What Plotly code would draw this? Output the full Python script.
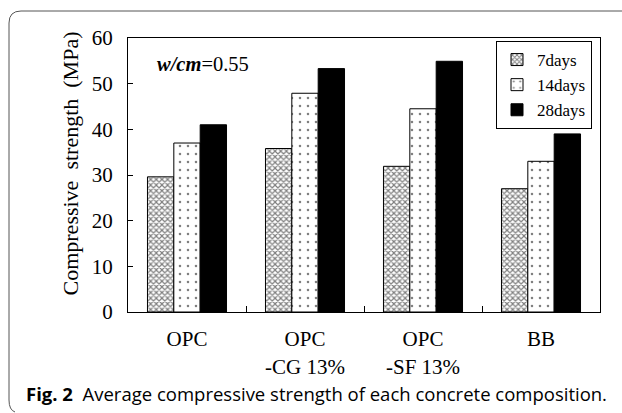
import plotly.graph_objects as go

categories = ["OPC", "OPC<br>-CG 13%", "OPC<br>-SF 13%", "BB"]
series_names = ["7days", "14days", "28days"]
d7 = [29.6, 35.8, 31.9, 27.0]
d14 = [37.0, 47.9, 44.5, 33.0]
d28 = [41.0, 53.3, 54.9, 39.0]
y_ticks = [0, 10, 20, 30, 40, 50, 60]

W, H = 622, 413
ML, MR, MT, MB = 128, 22, 38, 101
PW, PH = W - ML - MR, H - MT - MB

def px(x):
    return (x - ML) / PW

def py(y):
    return (H - MB - y) / PH

serif = "Liberation Serif"

fig = go.Figure()
fig.add_trace(go.Bar(x=categories, y=d7, name=series_names[0],
                     marker=dict(color="white", line=dict(color="black", width=1),
                                 pattern=dict(shape="x", fgcolor="black", bgcolor="white",
                                              size=4, solidity=0.5))))
fig.add_trace(go.Bar(x=categories, y=d14, name=series_names[1],
                     marker=dict(color="white", line=dict(color="black", width=1),
                                 pattern=dict(shape=".", fgcolor="black", bgcolor="white",
                                              size=8, solidity=0.08))))
fig.add_trace(go.Bar(x=categories, y=d28, name=series_names[2],
                     marker=dict(color="black", line=dict(color="black", width=1))))

fig.update_layout(
    width=W, height=H,
    margin=dict(l=ML, r=MR, t=MT, b=MB),
    paper_bgcolor="white", plot_bgcolor="white",
    barmode="group", bargap=0.33, bargroupgap=0,
    font=dict(family=serif, size=21, color="black"),
    showlegend=True,
    legend=dict(x=px(592), y=py(41), xanchor="right", yanchor="top",
                bgcolor="white", bordercolor="black", borderwidth=1,
                font=dict(family=serif, size=17, color="black"), tracegroupgap=0,
                itemwidth=30),
    xaxis=dict(showline=True, linecolor="black", linewidth=1, mirror=True,
               ticks="inside", tickson="boundaries", ticklen=6, tickcolor="black",
               ticklabelstandoff=8,
               tickfont=dict(family=serif, size=21)),
    yaxis=dict(range=[0, 60], tickvals=y_ticks, showline=True, linecolor="black",
               linewidth=1, mirror=True, ticks="inside", ticklen=5, tickcolor="black",
               ticklabelstandoff=10,
               showgrid=False, zeroline=False, tickfont=dict(family=serif, size=21)),
)

fig.add_annotation(text="Compressive  strength  (MPa)", textangle=-90,
                   x=px(55), y=py(164), xref="paper", yref="paper",
                   showarrow=False, font=dict(family=serif, size=22))
fig.add_annotation(text="<b><i>w/cm</i></b>=0.55", x=px(155), y=py(64),
                   xref="paper", yref="paper", xanchor="left", yanchor="middle",
                   showarrow=False, font=dict(family=serif, size=20.5))
fig.add_annotation(text="<b>Fig. 2</b>  Average compressive strength of each concrete composition.",
                   x=px(24), y=py(393), xref="paper", yref="paper", xanchor="left",
                   yanchor="middle", showarrow=False,
                   font=dict(family="Open Sans", size=18.5))

path = (f"M {px(622)},{py(11)} L {px(21)},{py(11)} Q {px(9)},{py(11)} {px(9)},{py(23)} "
        f"L {px(9)},{py(400)} Q {px(9)},{py(410)} {px(15)},{py(412)}")
fig.add_shape(type="path", path=path, xref="paper", yref="paper",
              line=dict(color="#555555", width=1))

fig.write_html("out.html")
